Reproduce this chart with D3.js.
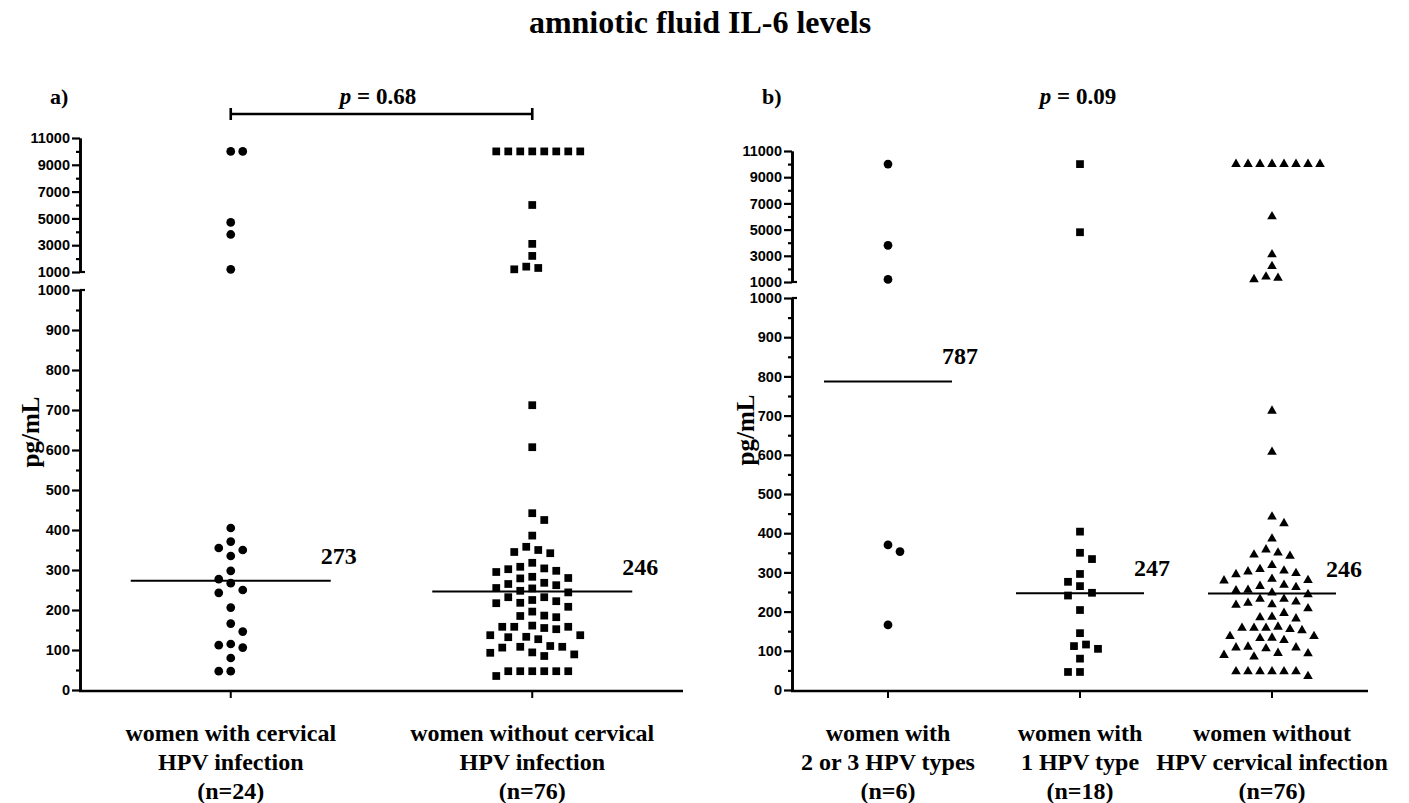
<!DOCTYPE html>
<html>
<head>
<meta charset="utf-8">
<script src="https://cdn.jsdelivr.net/npm/d3@7"></script>
<style>
  body { margin: 0; background: #fff; }
  svg { display: block; }
</style>
</head>
<body>
<script>
// amniotic fluid IL-6 values (pg/mL)
const hpvInfected = [10000, 10000, 4700, 3800, 1200, 405, 371, 355, 350, 335, 298, 277, 267,
  250, 243, 206, 166, 146, 115, 112, 106, 80, 47, 47];
const hpvMultiTypes = [10000, 3800, 1200, 370, 353, 166];
const hpvOneType = [10000, 4800, 404, 350, 334, 296, 276, 265, 248, 241, 204, 145, 116, 112,
  105, 80, 46, 46];
const noHpv = [10000, 10000, 10000, 10000, 10000, 10000, 10000, 10000, 6000, 3100, 2200, 1400,
  1300, 1200, 712, 607, 442, 425, 386, 358, 350, 345, 342, 318, 308, 304, 302, 298, 295, 283,
  279, 280, 268, 265, 262, 255, 254, 248, 244, 232, 232, 225, 222, 218, 217, 208, 196, 186, 185,
  182, 161, 158, 158, 158, 155, 152, 137, 137, 133, 132, 127, 110, 108, 108, 106, 94, 93, 89, 85,
  47, 47, 47, 47, 47, 47, 35];

const mediansA = [273, 246];
const mediansB = [787, 247, 246];

const categoriesA = [
  ["women with cervical", "HPV infection", "(n=24)"],
  ["women without cervical", "HPV infection", "(n=76)"]
];
const categoriesB = [
  ["women with", "2 or 3 HPV types", "(n=6)"],
  ["women with", "1 HPV type", "(n=18)"],
  ["women without", "HPV cervical infection", "(n=76)"]
];

const lowerMajorTicks = d3.range(0, 1001, 100);
const lowerMinorTicks = d3.range(50, 1000, 100);
const upperMajorTicks = [1000, 3000, 5000, 7000, 9000, 11000];
const upperMinorTicks = [2000, 4000, 6000, 8000, 10000];

const W = 1409, H = 803;
const serif = "'Liberation Serif', 'Times New Roman', serif";
const sans = "'Liberation Sans', Arial, sans-serif";

const svg = d3.select("body").append("svg")
  .attr("width", W)
  .attr("height", H)
  .attr("viewBox", `0 0 ${W} ${H}`);

svg.append("text")
  .attr("x", 700).attr("y", 33)
  .attr("text-anchor", "middle")
  .style("font-family", serif).style("font-weight", "bold").style("font-size", "32px")
  .text("amniotic fluid IL-6 levels");

// simple beeswarm: push each point sideways until it no longer overlaps placed ones
function dodge(values, yOf, step, minDist) {
  const pts = values.map(v => ({ v, y: yOf(v), dx: 0 })).sort((a, b) => a.y - b.y);
  const placed = [];
  let flip = 1;
  pts.forEach(p => {
    const near = placed.filter(q => Math.abs(q.y - p.y) < minDist);
    for (let k = 0; k < 40; k++) {
      const cands = k === 0 ? [0] : [flip * k * step, -flip * k * step];
      const ok = cands.find(dx => near.every(q => Math.hypot(q.dx - dx, q.y - p.y) >= minDist - 0.01));
      if (ok !== undefined) { p.dx = ok; if (k > 0) flip = -flip; break; }
    }
    placed.push(p);
  });
  return pts;
}

function drawPanel(cfg) {
  const g = svg.append("g");

  const x = d3.scaleBand().domain(d3.range(cfg.groups.length)).range([cfg.axisX, cfg.axisEnd]);
  const yLow = d3.scaleLinear().domain([0, 1000]).range(cfg.lowerRange);
  const yHigh = d3.scaleLinear().domain([1000, 11000]).range(cfg.upperRange);
  const yOf = v => v > 1000 ? yHigh(v) : yLow(v);

  // y axis, lower segment
  const axisStyle = sel => {
    sel.select(".domain").attr("stroke", "#000").attr("stroke-width", 2.6);
    sel.selectAll(".tick line").attr("stroke", "#000").attr("stroke-width", 2.2);
    sel.selectAll(".tick text")
      .style("font-family", sans).style("font-weight", "bold").style("font-size", "14.5px")
      .attr("fill", "#000");
  };
  g.append("g").attr("transform", `translate(${cfg.axisX},0)`)
    .call(d3.axisLeft(yLow).tickValues(lowerMinorTicks).tickSize(4).tickSizeOuter(0).tickFormat(""))
    .call(axisStyle);
  g.append("g").attr("transform", `translate(${cfg.axisX},0)`)
    .call(d3.axisLeft(yLow).tickValues(lowerMajorTicks).tickSize(8).tickSizeOuter(0).tickPadding(2).tickFormat(d3.format("d")))
    .call(axisStyle);

  // y axis, upper segment
  g.append("g").attr("transform", `translate(${cfg.axisX},0)`)
    .call(d3.axisLeft(yHigh).tickValues(upperMinorTicks).tickSize(4).tickSizeOuter(0).tickFormat(""))
    .call(axisStyle);
  g.append("g").attr("transform", `translate(${cfg.axisX},0)`)
    .call(d3.axisLeft(yHigh).tickValues(upperMajorTicks).tickSize(8).tickSizeOuter(0).tickPadding(2).tickFormat(d3.format("d")))
    .call(axisStyle);

  // break caps
  [yLow(1000), yHigh(1000)].forEach(yy => {
    g.append("line")
      .attr("x1", cfg.axisX).attr("x2", cfg.axisX + 5)
      .attr("y1", yy).attr("y2", yy)
      .attr("stroke", "#000").attr("stroke-width", 2.2);
  });

  // x axis
  const y0 = yLow(0) + 1;
  g.append("line")
    .attr("x1", cfg.axisX - 1).attr("x2", cfg.axisEnd)
    .attr("y1", y0).attr("y2", y0)
    .attr("stroke", "#000").attr("stroke-width", 2.6);
  g.selectAll(".xtick")
    .data(cfg.groups.map((d, i) => i))
    .join("line")
    .attr("x1", i => x(i) + x.bandwidth() / 2).attr("x2", i => x(i) + x.bandwidth() / 2)
    .attr("y1", y0).attr("y2", y0 + 7)
    .attr("stroke", "#000").attr("stroke-width", 2);

  // category labels
  cfg.categories.forEach((lines, i) => {
    const t = g.append("text")
      .attr("x", x(i) + x.bandwidth() / 2)
      .attr("y", 741)
      .attr("text-anchor", "middle")
      .style("font-family", serif).style("font-weight", "bold").style("font-size", "24px");
    lines.forEach((line, j) => {
      t.append("tspan").attr("x", x(i) + x.bandwidth() / 2).attr("dy", j === 0 ? 0 : 29).text(line);
    });
  });

  // y label
  g.append("text")
    .attr("transform", `translate(${cfg.ylabelX},${cfg.ylabelY}) rotate(-90)`)
    .attr("text-anchor", "middle")
    .attr("dy", "0.35em")
    .style("font-family", serif).style("font-weight", "bold").style("font-size", "25px")
    .text("pg/mL");

  // points
  cfg.groups.forEach((vals, i) => {
    const cx = x(i) + x.bandwidth() / 2;
    const pts = dodge(vals, yOf, 6, 11.5);
    g.selectAll(null)
      .data(pts)
      .join("path")
      .attr("transform", d => `translate(${cx + d.dx},${d.y})`)
      .attr("d", d3.symbol().type(cfg.symbols[i]).size(cfg.symbolSizes[i]))
      .attr("fill", "#000");
  });

  // medians
  cfg.medians.forEach((m, i) => {
    const cx = x(i) + x.bandwidth() / 2;
    const ym = yLow(m);
    g.append("line")
      .attr("x1", cx - cfg.medianHalf).attr("x2", cx + cfg.medianHalf)
      .attr("y1", ym).attr("y2", ym)
      .attr("stroke", "#000").attr("stroke-width", 2);
    g.append("text")
      .attr("x", cx + cfg.medianHalf - 10)
      .attr("y", ym - 17)
      .style("font-family", serif).style("font-weight", "bold").style("font-size", "24px")
      .text(m);
  });

  // panel letter and p value
  g.append("text")
    .attr("x", cfg.letterX).attr("y", 104)
    .style("font-family", serif).style("font-weight", "bold").style("font-size", "22px")
    .text(cfg.letter);
  const pt = g.append("text")
    .attr("x", cfg.pX).attr("y", 104)
    .attr("text-anchor", "middle")
    .style("font-family", serif).style("font-weight", "bold").style("font-size", "23px");
  pt.append("tspan").style("font-style", "italic").text("p");
  pt.append("tspan").text(" = " + cfg.pValue);

  if (cfg.bracket) {
    const xa = x(0) + x.bandwidth() / 2, xb = x(1) + x.bandwidth() / 2;
    g.append("path")
      .attr("d", `M${xa},108V120M${xa},114H${xb}M${xb},108V120`)
      .attr("fill", "none").attr("stroke", "#000").attr("stroke-width", 2.6);
  }
}

drawPanel({
  axisX: 80, axisEnd: 683,
  lowerRange: [690, 290], upperRange: [272, 138],
  groups: [hpvInfected, noHpv],
  symbols: [d3.symbolCircle, d3.symbolSquare],
  symbolSizes: [60, 60],
  medians: mediansA, medianHalf: 100,
  categories: categoriesA,
  ylabelX: 30, ylabelY: 432,
  letter: "a)", letterX: 50,
  pValue: "0.68", pX: 378,
  bracket: true
});

drawPanel({
  axisX: 792, axisEnd: 1368,
  lowerRange: [690, 298], upperRange: [282, 151],
  groups: [hpvMultiTypes, hpvOneType, noHpv],
  symbols: [d3.symbolCircle, d3.symbolSquare, d3.symbolTriangle],
  symbolSizes: [60, 60, 40],
  medians: mediansB, medianHalf: 64,
  categories: categoriesB,
  ylabelX: 745, ylabelY: 430,
  letter: "b)", letterX: 762,
  pValue: "0.09", pX: 1078,
  bracket: false
});
</script>
</body>
</html>
